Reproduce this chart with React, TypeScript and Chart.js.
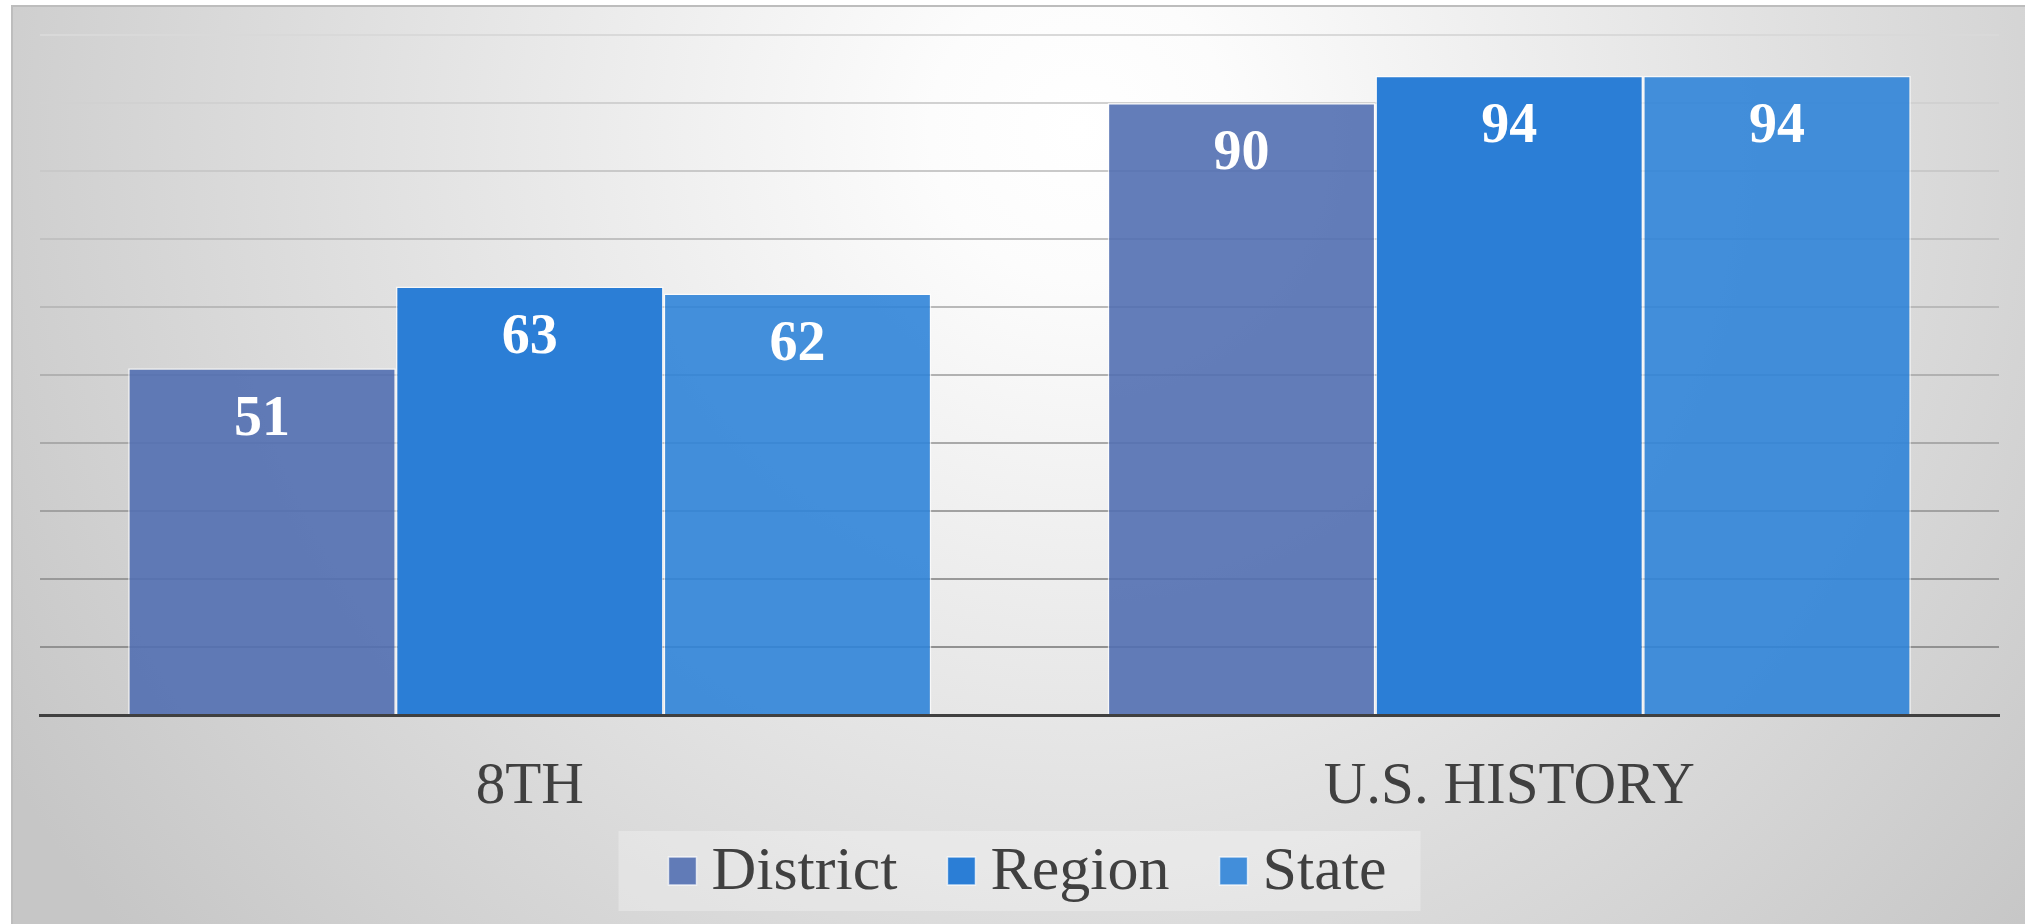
import React, { useEffect, useRef } from "react";
import { Chart, registerables } from "chart.js";

Chart.register(...registerables);

const categories = ["8TH", "U.S. HISTORY"];
const seriesNames = ["District", "Region", "State"];
const districtValues = [51, 90];
const regionValues = [63, 94];
const stateValues = [62, 94];
const yTicks = [0, 10, 20, 30, 40, 50, 60, 70, 80, 90, 100];

const FONT = "'Liberation Serif', 'Times New Roman', serif";

const bgPlugin = {
  id: "bgPlugin",
  beforeDraw(chart: any) {
    const { ctx, width, height } = chart;
    ctx.save();
    ctx.fillStyle = "#ffffff";
    ctx.fillRect(0, 0, width, height);
    const g = ctx.createRadialGradient(1080, 130, 0, 1080, 130, 1250);
    g.addColorStop(0, "#ffffff");
    g.addColorStop(0.12, "#fcfcfc");
    g.addColorStop(1, "#c6c6c6");
    ctx.fillStyle = g;
    ctx.fillRect(11, 5, width - 11, height - 5);
    ctx.strokeStyle = "#bdbdbd";
    ctx.lineWidth = 2;
    ctx.beginPath();
    ctx.moveTo(12, height);
    ctx.lineTo(12, 6);
    ctx.lineTo(width, 6);
    ctx.stroke();
    ctx.restore();
  },
};

// Custom legend (drawn in the space reserved below the x axis)
const legendPlugin = {
  id: "customLegend",
  afterDraw(chart: any) {
    const { ctx, chartArea } = chart;
    const box = 28;
    const gapText = 15;
    const gapItem = 50;
    const cy = 871;
    ctx.save();
    ctx.font = `62px ${FONT}`;
    const items = chart.data.datasets.map((ds: any) => ({
      label: ds.label,
      color: ds.backgroundColor,
      w: ctx.measureText(ds.label).width,
    }));
    let total = 0;
    items.forEach((it: any, i: number) => {
      total += box + gapText + it.w + (i < items.length - 1 ? gapItem : 0);
    });
    const cx = (chartArea.left + chartArea.right) / 2;
    let x = cx - total / 2 + 8;
    ctx.fillStyle = "rgba(255,255,255,0.28)";
    ctx.fillRect(x - 50, cy - 40, total + 84, 80);
    ctx.textBaseline = "middle";
    ctx.textAlign = "left";
    items.forEach((it: any) => {
      ctx.fillStyle = it.color;
      ctx.fillRect(x, cy - box / 2, box, box);
      ctx.strokeStyle = "rgba(255,255,255,0.7)";
      ctx.lineWidth = 1.5;
      ctx.strokeRect(x, cy - box / 2, box, box);
      ctx.fillStyle = "#404040";
      ctx.fillText(it.label, x + box + gapText, cy + 2);
      x += box + gapText + it.w + gapItem;
    });
    ctx.restore();
  },
};

const labelPlugin = {
  id: "labelPlugin",
  afterDatasetsDraw(chart: any) {
    const { ctx } = chart;
    ctx.save();
    ctx.font = `bold 56px ${FONT}`;
    ctx.fillStyle = "#ffffff";
    ctx.textAlign = "center";
    ctx.textBaseline = "middle";
    chart.data.datasets.forEach((ds: any, di: number) => {
      const meta = chart.getDatasetMeta(di);
      meta.data.forEach((el: any, i: number) => {
        ctx.fillText(String(ds.data[i]), el.x, el.y + 52);
      });
    });
    ctx.restore();
  },
};

export default function App() {
  const ref = useRef<HTMLCanvasElement>(null);
  useEffect(() => {
    if (!ref.current) return;
    const gridColor = (c: any) => {
      const idx = c.index;
      if (idx === 0) return "rgba(0,0,0,0)";
      const t = (idx - 1) / (yTicks.length - 2);
      const v = Math.round(145 + t * 72);
      return `rgb(${v},${v},${v})`;
    };
    const chart = new Chart(ref.current, {
      type: "bar",
      data: {
        labels: categories,
        datasets: [
          {
            label: seriesNames[0],
            data: districtValues,
            backgroundColor: "rgba(82,111,177,0.9)",
            borderColor: "rgba(255,255,255,0.7)",
            borderWidth: 1.5,
          },
          {
            label: seriesNames[1],
            data: regionValues,
            backgroundColor: "rgb(43,126,214)",
            borderColor: "rgba(255,255,255,0.7)",
            borderWidth: 1.5,
          },
          {
            label: seriesNames[2],
            data: stateValues,
            backgroundColor: "rgba(48,132,216,0.9)",
            borderColor: "rgba(255,255,255,0.7)",
            borderWidth: 1.5,
          },
        ],
      },
      options: {
        responsive: false,
        animation: false,
        layout: { padding: { left: 40, right: 26, top: 35, bottom: 109 } },
        datasets: {
          bar: { categoryPercentage: 0.82, barPercentage: 1.0 },
        },
        scales: {
          x: {
            grid: { display: false, drawTicks: false },
            border: { display: true, color: "#404040", width: 3 },
            ticks: {
              padding: 37,
              color: "#404040",
              font: { family: FONT, size: 59 },
              maxRotation: 0,
            },
            afterFit: (s: any) => {
              s.height = 100;
            },
          },
          y: {
            min: 0,
            max: 100,
            afterBuildTicks: (s: any) => {
              s.ticks = yTicks.map((v) => ({ value: v }));
            },
            ticks: { display: false },
            border: { display: false },
            grid: { color: gridColor, lineWidth: 2, drawTicks: false },
          },
        },
        plugins: {
          legend: { display: false },
          tooltip: { enabled: false },
        },
      },
      plugins: [bgPlugin, labelPlugin, legendPlugin],
    });
    return () => chart.destroy();
  }, []);
  return (
    <div style={{ position: "absolute", left: 0, top: 0, width: 2025, height: 924 }}>
      <canvas ref={ref} width={2025} height={924} style={{ display: "block" }} />
    </div>
  );
}
